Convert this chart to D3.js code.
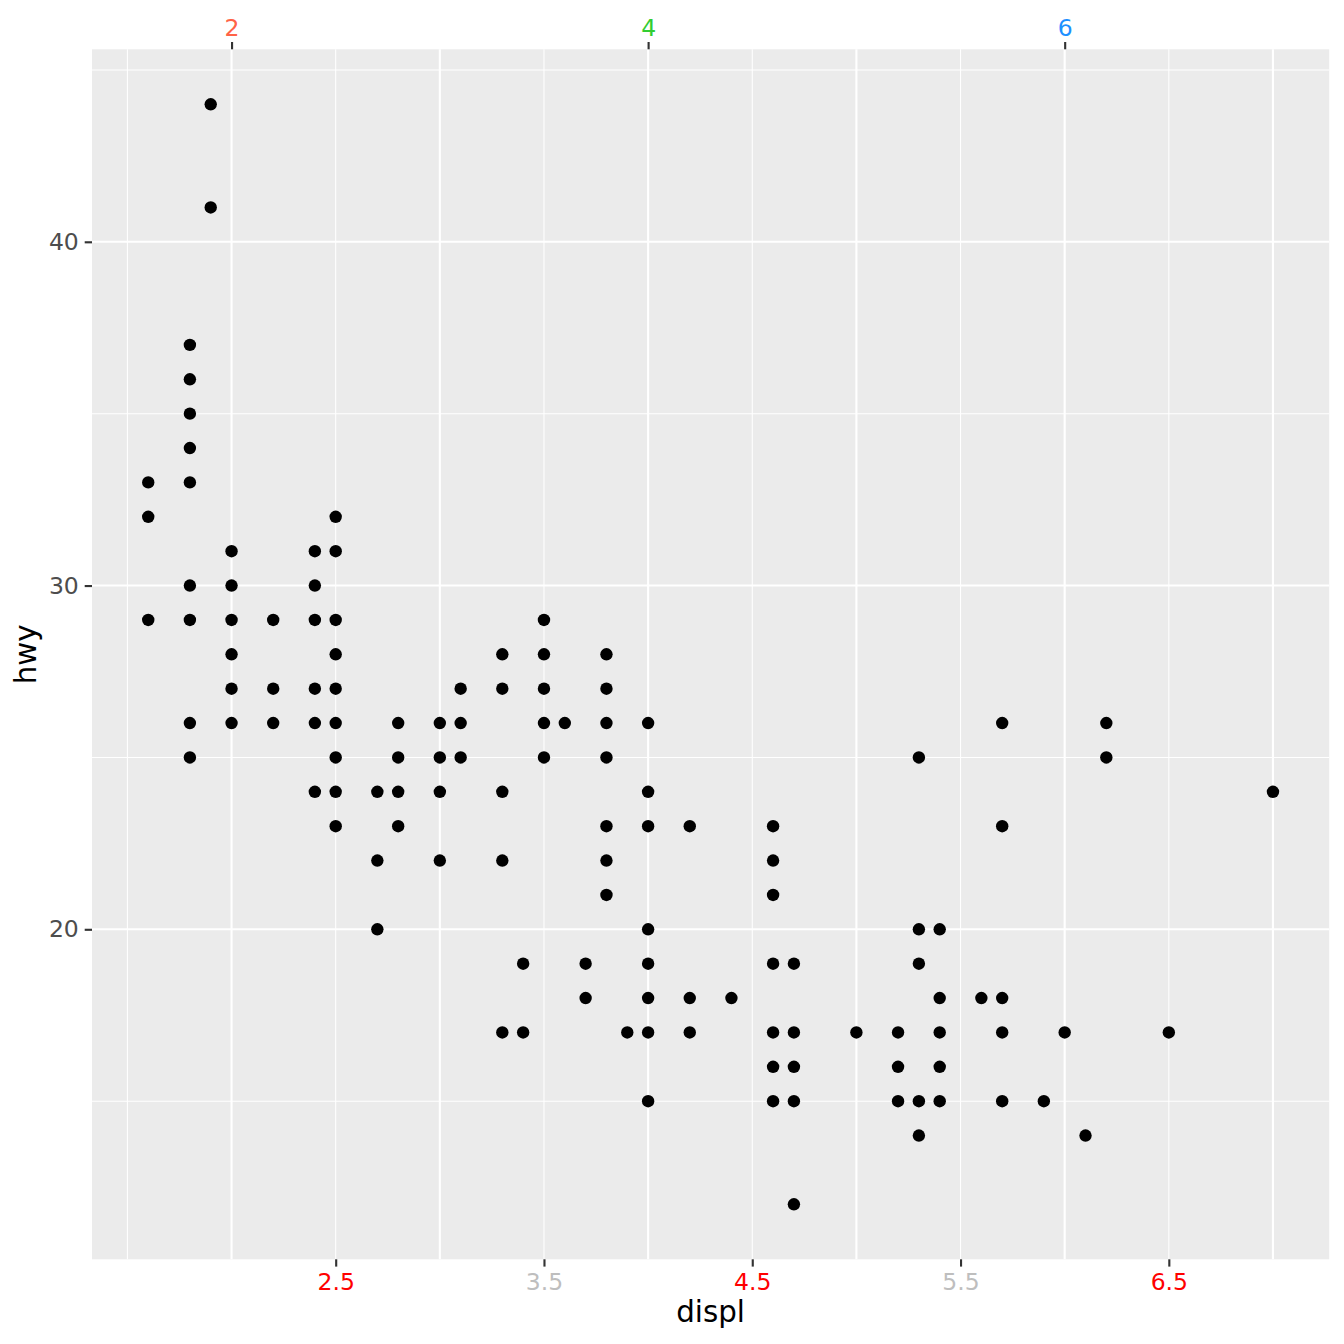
<!DOCTYPE html>
<html><head><meta charset="utf-8">
<script src="https://cdn.jsdelivr.net/npm/d3@7"></script>
<style>body{margin:0;background:#fff}svg{display:block;font-family:"DejaVu Sans",sans-serif}</style>
</head><body>
<script>
const displ = [1.6,1.6,1.6,
 1.8,1.8,1.8,1.8,1.8,1.8,1.8,1.8,1.8,
 1.9,1.9,
 2.0,2.0,2.0,2.0,2.0,2.0,
 2.2,2.2,2.2,
 2.4,2.4,2.4,2.4,2.4,2.4,
 2.5,2.5,2.5,2.5,2.5,2.5,2.5,2.5,2.5,
 2.7,2.7,2.7,
 2.8,2.8,2.8,2.8,
 3.0,3.0,3.0,3.0,
 3.1,3.1,3.1,
 3.3,3.3,3.3,3.3,3.3,
 3.4,3.4,
 3.5,3.5,3.5,3.5,3.5,
 3.6,
 3.7,3.7,
 3.8,3.8,3.8,3.8,3.8,3.8,3.8,
 3.9,
 4.0,4.0,4.0,4.0,4.0,4.0,4.0,4.0,
 4.2,4.2,4.2,
 4.4,
 4.6,4.6,4.6,4.6,4.6,4.6,4.6,
 4.7,4.7,4.7,4.7,4.7,
 5.0,
 5.2,5.2,5.2,
 5.3,5.3,5.3,5.3,5.3,
 5.4,5.4,5.4,5.4,5.4,
 5.6,
 5.7,5.7,5.7,5.7,5.7,
 5.9,
 6.0,
 6.1,
 6.2,6.2,
 6.5,
 7.0];
const hwy = [33,32,29,
 37,36,35,34,33,30,29,26,25,
 44,41,
 31,30,29,28,27,26,
 29,27,26,
 31,30,29,27,26,24,
 32,31,29,28,27,26,25,24,23,
 24,22,20,
 26,25,24,23,
 26,25,24,22,
 27,26,25,
 28,27,24,22,17,
 19,17,
 29,28,27,26,25,
 26,
 19,18,
 28,27,26,25,23,22,21,
 17,
 26,24,23,20,19,18,17,15,
 23,18,17,
 18,
 23,22,21,19,17,16,15,
 19,17,16,15,12,
 17,
 17,16,15,
 25,20,19,15,14,
 20,18,17,16,15,
 18,
 26,23,18,17,15,
 15,
 17,
 14,
 26,25,
 17,
 24];
const bottomBreaks = [2.5,3.5,4.5,5.5,6.5];
const bottomLabels = ["2.5","3.5","4.5","5.5","6.5"];
const bottomColors = ["red","#BEBEBE","red","#BEBEBE","red"];
const topBreaks = [2,4,6];
const topLabels = ["2","4","6"];
const topColors = ["tomato","limegreen","dodgerblue"];
const yBreaks = [20,30,40];
const xMajor = [2,3,4,5,6,7];
const xMinor = [1.5,2.5,3.5,4.5,5.5,6.5];
const yMinor = [15,25,35,45];

const W = 1344, H = 1344;
const L = 92, R = 1329.2, T = 49.3, B = 1259.3;
const svg = d3.select("body").append("svg").attr("width", W).attr("height", H);
const x = d3.scaleLinear().domain([1.33, 7.27]).range([L, R]);
const y = d3.scaleLinear().domain([10.4, 45.6]).range([B, T]);

svg.append("rect").attr("x", L).attr("y", T).attr("width", R - L).attr("height", B - T).attr("fill", "#EBEBEB");
const g = svg.append("g");
g.selectAll(".vmin").data(xMinor).join("line").attr("x1", d => x(d)).attr("x2", d => x(d)).attr("y1", T).attr("y2", B).attr("stroke", "#fff").attr("stroke-width", 1.07);
g.selectAll(".hmin").data(yMinor).join("line").attr("y1", d => y(d)).attr("y2", d => y(d)).attr("x1", L).attr("x2", R).attr("stroke", "#fff").attr("stroke-width", 1.07);
g.selectAll(".vmaj").data(xMajor).join("line").attr("x1", d => x(d)).attr("x2", d => x(d)).attr("y1", T).attr("y2", B).attr("stroke", "#fff").attr("stroke-width", 2.13);
g.selectAll(".hmaj").data(yBreaks).join("line").attr("y1", d => y(d)).attr("y2", d => y(d)).attr("x1", L).attr("x2", R).attr("stroke", "#fff").attr("stroke-width", 2.13);

const pts = displ.map((d, i) => ({x: d, y: hwy[i]}));
svg.append("g").selectAll("circle").data(pts).join("circle")
  .attr("cx", d => x(d.x)).attr("cy", d => y(d.y)).attr("r", 6.2).attr("fill", "#000");

function styleAxis(sel) {
  sel.select(".domain").remove();
  sel.selectAll(".tick line").attr("stroke", "#333333").attr("stroke-width", 2.13);
  sel.selectAll(".tick text").attr("font-size", 23.5).attr("font-family", "DejaVu Sans, sans-serif");
}
const ax = svg.append("g").attr("transform", `translate(0,${B})`)
  .call(d3.axisBottom(x).tickValues(bottomBreaks).tickFormat((d, i) => bottomLabels[i]).tickSizeInner(7.3).tickSizeOuter(0).tickPadding(5.9));
styleAxis(ax);
ax.selectAll(".tick text").attr("fill", (d, i) => bottomColors[i]).attr("dy", "0.76em");

const at = svg.append("g").attr("transform", `translate(0,${T})`)
  .call(d3.axisTop(x).tickValues(topBreaks).tickFormat((d, i) => topLabels[i]).tickSizeInner(7.3).tickSizeOuter(0).tickPadding(5.9));
styleAxis(at);
at.selectAll(".tick text").attr("fill", (d, i) => topColors[i]);

const ay = svg.append("g").attr("transform", `translate(${L},0)`)
  .call(d3.axisLeft(y).tickValues(yBreaks).tickFormat(d3.format("d")).tickSizeInner(7.3).tickSizeOuter(0).tickPadding(5.9));
styleAxis(ay);
ay.selectAll(".tick text").attr("fill", "#4D4D4D");

svg.append("text").attr("x", (L + R) / 2).attr("y", 1322).attr("text-anchor", "middle")
  .attr("font-size", 29.3).attr("fill", "#000").text("displ");
svg.append("text").attr("transform", `translate(36,${(T + B) / 2}) rotate(-90)`).attr("text-anchor", "middle")
  .attr("font-size", 29.3).attr("fill", "#000").text("hwy");
</script>
</body></html>
